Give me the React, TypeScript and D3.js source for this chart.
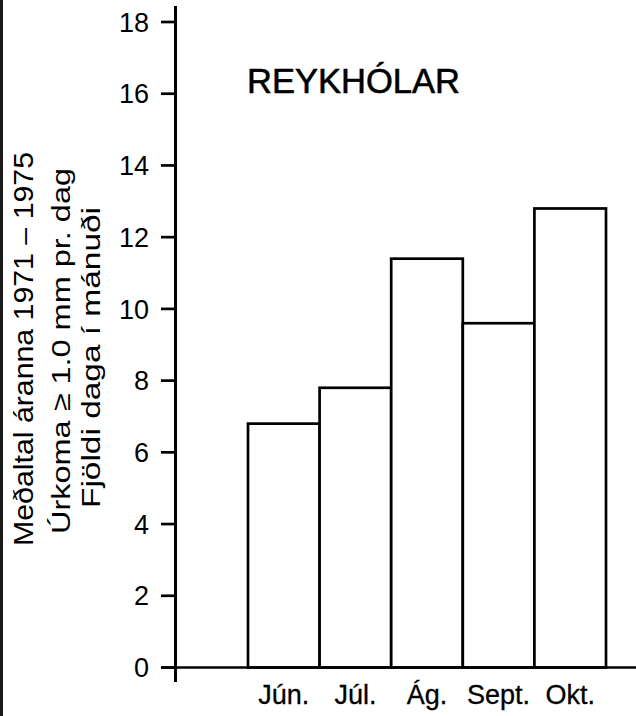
import React from "react";
import * as d3 from "d3";

// Monthly number of days with precipitation >= 1.0 mm, Reykhólar, 1971–1975 mean
const months = ["Jún.", "Júl.", "Ág.", "Sept.", "Okt."];
const days = [6.8, 7.8, 11.4, 9.6, 12.8];
const yTicks = [0, 2, 4, 6, 8, 10, 12, 14, 16, 18];
const stationName = "REYKHÓLAR";
const axisTitleLines = [
  "Meðaltal áranna 1971 – 1975",
  "Úrkoma ≥ 1.0 mm pr. dag",
  "Fjöldi daga í mánuði",
];

const W = 636;
const H = 716;
const FONT = "'Liberation Sans', Arial, sans-serif";

export default function App() {
  const axisX = 175.5;
  const y = d3.scaleLinear().domain([0, 18]).range([667.5, 22]);
  const x = d3.scaleBand<string>().domain(months).range([248, 606]).paddingInner(0).paddingOuter(0);

  // rotated axis title: baseline x, start (bottom) y, rendered length, font size
  const titleLayout = [
    { bx: 33, start: 546, len: 394, size: 27 },
    { bx: 70, start: 534, len: 366, size: 26 },
    { bx: 100, start: 508, len: 301, size: 25 },
  ];

  return (
    <svg
      width={W}
      height={H}
      viewBox={`0 0 ${W} ${H}`}
      style={{ position: "absolute", left: 0, top: 0, background: "#fff" }}
    >
      <rect x={0} y={0} width={W} height={H} fill="#fff" />
      {/* dark left border */}
      <rect x={0} y={0} width={3} height={H} fill="#1a1a1a" />

      {/* bars */}
      <g fill="#fff" stroke="#000" strokeWidth={2.7}>
        {months.map((m, i) => (
          <rect
            key={m}
            x={x(m)!}
            y={y(days[i])}
            width={x.bandwidth()}
            height={y(0) - y(days[i])}
          />
        ))}
      </g>

      {/* baseline */}
      <line x1={161} x2={W} y1={y(0)} y2={y(0)} stroke="#000" strokeWidth={2.7} />
      {/* y axis */}
      <line x1={axisX} x2={axisX} y1={6} y2={682} stroke="#000" strokeWidth={3} />
      {yTicks.map((t) => (
        <g key={t}>
          <line x1={161} x2={axisX} y1={y(t)} y2={y(t)} stroke="#000" strokeWidth={2.7} />
          <text
            x={149}
            y={y(t)}
            dy="0.36em"
            textAnchor="end"
            fontFamily={FONT}
            fontSize={27}
            fill="#000"
          >
            {t}
          </text>
        </g>
      ))}

      {/* month labels */}
      {months.map((m) => (
        <text
          key={m}
          x={x(m)! + x.bandwidth() / 2}
          y={704}
          textAnchor="middle"
          fontFamily={FONT}
          fontSize={27}
          fill="#000"
          stroke="#000"
          strokeWidth={0.3}
        >
          {m}
        </text>
      ))}

      {/* station name */}
      <text
        x={247}
        y={93}
        fontFamily={FONT}
        fontSize={35}
        textLength={213}
        lengthAdjust="spacingAndGlyphs"
        fill="#000"
        stroke="#000"
        strokeWidth={0.6}
      >
        {stationName}
      </text>

      {/* rotated axis title */}
      {axisTitleLines.map((line, i) => {
        const l = titleLayout[i];
        return (
          <text
            key={i}
            transform={`translate(${l.bx},${l.start}) rotate(-90)`}
            fontFamily={FONT}
            fontSize={l.size}
            textLength={l.len}
            lengthAdjust="spacingAndGlyphs"
            fill="#000"
          >
            {line}
          </text>
        );
      })}
    </svg>
  );
}
